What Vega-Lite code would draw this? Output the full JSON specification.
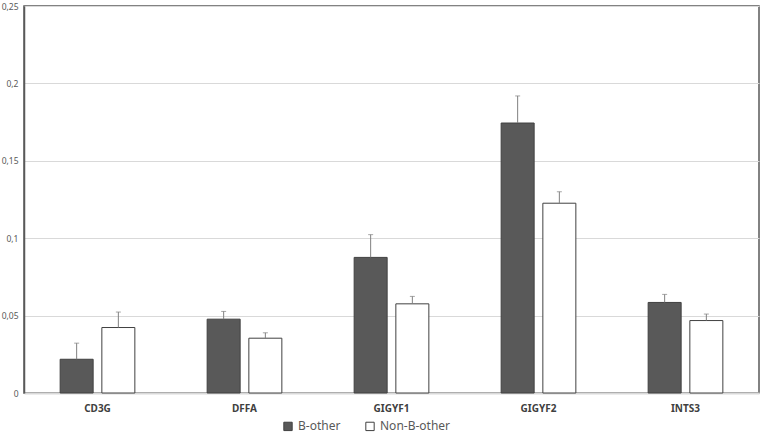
{
  "$schema": "https://vega.github.io/schema/vega-lite/v6.json",
  "autosize": "none",
  "width": 735,
  "height": 387,
  "padding": {"left": 24, "top": 6, "right": 6, "bottom": 41},
  "background": "white",
  "config": {
    "font": "Noto Sans",
    "view": {"stroke": "#595959", "strokeWidth": 1.5}
  },
  "data": {
    "values": [
      {"gene": "CD3G", "group": "B-other", "value": 0.0218, "upper": 0.0322},
      {"gene": "CD3G", "group": "Non-B-other", "value": 0.0423, "upper": 0.0523},
      {"gene": "DFFA", "group": "B-other", "value": 0.0477, "upper": 0.0527},
      {"gene": "DFFA", "group": "Non-B-other", "value": 0.0354, "upper": 0.0389},
      {"gene": "GIGYF1", "group": "B-other", "value": 0.0876, "upper": 0.1023},
      {"gene": "GIGYF1", "group": "Non-B-other", "value": 0.0576, "upper": 0.0624},
      {"gene": "GIGYF2", "group": "B-other", "value": 0.1744, "upper": 0.1919},
      {"gene": "GIGYF2", "group": "Non-B-other", "value": 0.1226, "upper": 0.1300},
      {"gene": "INTS3", "group": "B-other", "value": 0.0585, "upper": 0.0637},
      {"gene": "INTS3", "group": "Non-B-other", "value": 0.0468, "upper": 0.0510}
    ]
  },
  "encoding": {
    "x": {
      "field": "gene", "type": "nominal", "sort": null,
      "scale": {"paddingInner": 0, "paddingOuter": 0},
      "axis": {
        "title": null, "labelAngle": 0, "ticks": false,
        "domain": true, "domainColor": "#d9d9d9", "domainWidth": 2,
        "labelFont": "Noto Sans", "labelFontWeight": "bold", "labelFontSize": 10,
        "labelColor": "#404040", "labelPadding": 10
      }
    },
    "xOffset": {
      "field": "group", "type": "nominal",
      "scale": {"paddingInner": 0.209, "paddingOuter": 0.867}
    }
  },
  "layer": [
    {
      "mark": {"type": "bar", "stroke": "#404040", "strokeWidth": 1},
      "encoding": {
        "y": {
          "field": "value", "type": "quantitative",
          "scale": {"domain": [0, 0.25], "nice": false},
          "axis": {
            "title": null, "values": [0, 0.05, 0.1, 0.15, 0.2, 0.25],
            "labelExpr": "replace(format(datum.value, '~g'), '.', ',')",
            "ticks": false, "domainColor": "#595959", "domainWidth": 1.5,
            "gridColor": "#d9d9d9", "gridWidth": 1,
            "labelColor": "#595959", "labelFontSize": 8.5, "labelPadding": 6
          }
        },
        "fill": {
          "field": "group", "type": "nominal",
          "scale": {"domain": ["B-other", "Non-B-other"], "range": ["#595959", "#ffffff"]},
          "legend": {
            "title": null, "orient": "none", "direction": "horizontal",
            "legendX": 258, "legendY": 414,
            "symbolType": "square", "symbolSize": 70,
            "symbolStrokeColor": "#404040", "symbolStrokeWidth": 1,
            "labelFontSize": 12, "labelColor": "#595959",
            "columnPadding": 22, "labelOffset": 4
          }
        }
      }
    },
    {
      "mark": {"type": "rule", "color": "#808080", "strokeWidth": 1},
      "encoding": {
        "y": {"field": "value", "type": "quantitative"},
        "y2": {"field": "upper"}
      }
    },
    {
      "mark": {"type": "tick", "color": "#808080", "thickness": 1, "size": 5},
      "encoding": {
        "y": {"field": "upper", "type": "quantitative"}
      }
    }
  ]
}
